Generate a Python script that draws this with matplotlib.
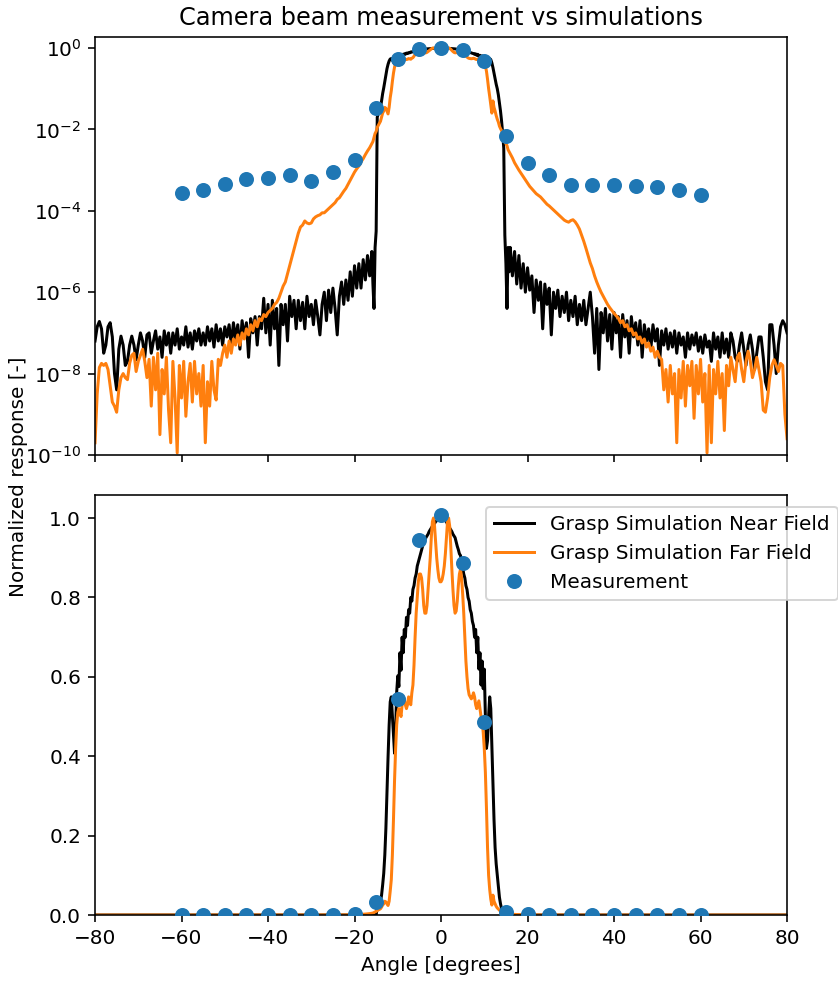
import numpy as np
import matplotlib
matplotlib.use("Agg")
import matplotlib.pyplot as plt
from matplotlib.ticker import NullLocator

# ---------------------------------------------------------------------------
# Beam cuts, in dB relative to the peak.
# Outer wings are sampled every 0.5 deg, the main beam every 0.25 deg.
# ---------------------------------------------------------------------------

# GRASP near-field simulation
nf_left_db = [
    -72, -68.5, -67.2, -69, -75, -73, -68.5, -67.5, -71, -80, -84, -74, -70.8,
    -73, -78, -77, -73, -70.8, -73, -76.6, -73, -70, -72, -76, -70.5,
    -70, -75, -72, -69.5, -74, -71, -76, -69.5, -73, -70, -75, -70, -73, -69,
    -74, -71, -73, -68.5, -73.5, -70, -74, -69.5, -72, -69, -73, -70, -73,
    -68.5, -72, -69, -73.5, -68, -72, -69, -73, -68.5, -71, -68, -73, -67.5,
    -71.5, -68, -74, -67, -71, -67.5, -76, -66.5, -70, -66, -73, -66, -69,
    -61.5, -70, -63, -73, -62, -69, -64, -78, -63, -68, -63, -72, -61, -66,
    -62, -69, -62, -67, -62.5, -69, -61, -66, -63, -68, -62, -66, -70.5, -63,
    -60, -67, -59.5, -65, -59, -64, -70.5, -61, -57.5, -63, -57, -62, -55, -61,
    -53.5, -59, -53, -59, -52, -57, -51, -56, -50,
]
nf_core_db = [
    -58, -64, -49, -45, -17.0, -16.2, -15.5, -14.6, -13.0, -11.2, -9.8, -8.2,
    -6.6, -5.1, -4.0, -3.2, -2.7, -2.6, -3.0, -3.4, -3.9, -3.3, -2.5, -2.2,
    -2.4, -1.8, -2.1, -1.55, -1.8, -1.43, -1.55, -1.25, -1.37, -1.14, -1.19,
    -0.97, -1.02, -0.86, -0.81, -0.71, -0.66, -0.56, -0.51, -0.46, -0.41,
    -0.36, -0.32, -0.27, -0.25, -0.22, -0.2, -0.18, -0.15, -0.13, -0.11,
    -0.09, -0.07, -0.06, -0.04, -0.03, -0.02, -0.01, 0.0,
    0.0,
    0.0, -0.01, -0.02, -0.03, -0.04, -0.07, -0.09, -0.11, -0.13, -0.15, -0.18,
    -0.2, -0.22, -0.27, -0.32, -0.36, -0.41, -0.43, -0.51, -0.58, -0.66,
    -0.71, -0.81, -0.86, -0.97, -1.02, -1.14, -1.19, -1.31, -1.37, -1.55,
    -1.43, -1.8, -1.55, -2.08, -1.8, -2.37, -1.94, -2.44, -2.08, -3.0, -3.77,
    -3.57, -3.0, -2.6, -2.84, -3.67, -4.81, -6.2, -7.7, -8.9, -10.0, -11.5,
    -13.5, -15.5, -18.0, -21.0, -24.6, -46, -53, -64, -49, -55,
]
nf_right_db = [
    -49, -56, -50, -58, -51, -59, -53, -60, -54, -59.5, -56, -65, -57, -62,
    -57.5, -69, -58, -63, -59, -70.5, -60, -64, -59.5, -66, -61, -65, -60, -67,
    -62, -66, -61, -68, -63, -67, -62, -68, -64, -60, -66, -75, -64, -79, -65,
    -70, -64, -72, -65.5, -74, -65, -70, -66, -76, -65.5, -71, -67, -75, -66,
    -71, -67.5, -73, -67, -76, -68, -72, -69, -74, -68, -72, -69, -78, -69.5,
    -73, -69, -74, -70, -73.5, -69.5, -75, -70, -73, -71, -76, -70, -74,
    -70.5, -73, -70, -74.5, -71, -75, -70.5, -73.5, -72, -77, -70, -74, -71,
    -76, -70, -75, -71.5, -76, -70, -72, -76, -77, -73, -70, -74, -78, -73,
    -70.5, -74, -79, -75, -71, -71, -76, -82, -84, -68, -68, -73, -80, -73,
    -68.5, -67, -68, -70,
]

# GRASP far-field simulation
ff_left_db = [
    -97, -85, -78.5, -77.5, -78, -77.5, -79, -83, -87, -88, -89.5, -84, -81,
    -80, -81, -81.5, -77.5, -75.5, -75, -79.5, -77, -75.5, -74, -77, -81,
    -76.5, -88, -76, -84, -75, -95, -79, -85, -76, -89, -97, -77, -86, -99.5,
    -78, -86, -77, -90.5, -82, -77.5, -87, -77, -85, -80, -88, -78, -97, -82,
    -88, -77, -84, -86.5, -76.5, -78, -75, -73, -76, -72, -75, -71.5, -73,
    -70.5, -73, -70, -71.5, -69, -70.5, -68, -69.5, -67, -68.5, -66.5, -67,
    -65.5, -66, -65, -64.5, -64, -63, -62.5, -61.5, -60, -58.5, -57.5, -55.5,
    -53.5, -51.5, -49.5, -47.5, -45.5, -44, -43.5, -42.5, -43, -43.2, -43,
    -42, -41.5, -41.2, -41, -40.5, -40.5, -40, -39.5, -39, -38.5, -38, -37.2,
    -36.8, -36, -35.2, -34.5, -33.5, -32.5, -31.5, -30.5, -29.7, -29, -28,
    -27.2, -26.2, -25.3, -24.5, -23.5,
]
ff_core_db = [
    -23.0, -22.0, -21.0, -20.5, -19.5, -19.0, -18.5, -18.0, -17.0, -16.0,
    -15.5, -14.6, -14.8, -15.5, -16.2, -14.6, -12.2, -10.5, -8.2, -6.2, -4.7,
    -3.77, -3.19, -2.92, -2.84, -2.92, -3.01, -2.76, -2.6, -2.64, -2.76,
    -2.84, -2.76, -2.6, -2.68, -2.76, -2.52, -2.37, -2.01, -1.55, -1.19,
    -0.97, -0.76, -0.66, -0.66, -0.71, -0.86, -1.08, -1.19, -1.19, -1.08,
    -0.86, -0.66, -0.46, -0.22, -0.04, 0.0, -0.09, -0.27, -0.46, -0.6, -0.71,
    -0.76,
    -0.76,
    -0.73, -0.66, -0.56, -0.41, -0.22, -0.04, 0.0, -0.09, -0.32, -0.6, -0.86,
    -1.08, -1.19, -1.16, -1.02, -0.81, -0.66, -0.6, -0.71, -0.92, -1.19,
    -1.55, -1.94, -2.22, -2.44, -2.56, -2.6, -2.64, -2.6, -2.52, -2.6, -2.76,
    -2.84, -2.76, -2.68, -2.84, -3.01, -3.1, -3.37, -3.77, -4.44, -5.69,
    -7.7, -10.0, -11.9, -14.0, -16.0, -13.0, -14.6, -15.5, -16.6, -17.5,
    -18.2, -19.2, -19.8, -20.3, -21.0, -21.5, -22.6, -23.5, -24.0, -25.0,
    -25.5,
]
ff_right_db = [
    -26, -27, -28.2, -29.1, -30, -30.8, -31.6, -32.4, -33.2, -34, -34.6,
    -35.2, -35.8, -36.2, -36.6, -37.2, -37.8, -38.4, -38.8, -39.3, -39.8,
    -40.3, -40.8, -41.3, -41.8, -42.3, -42.6, -42.8, -42.4, -42.2, -42.7,
    -43.5, -44.5, -46, -47.5, -49.2, -51, -52.8, -54.2, -56, -57.5, -58.8,
    -60, -61, -62, -63, -63.8, -64.5, -65.2, -65.8, -66.4, -67.5, -67, -68.5,
    -68, -69.5, -69, -70.5, -70, -71.5, -71, -72.5, -71.5, -73.5, -72.5,
    -74.5, -73.5, -76, -74.5, -76, -76.5, -84, -79, -87, -78, -85, -80, -97,
    -79, -86, -77, -88, -78, -83, -77, -91, -78, -85, -76.5, -87, -80, -99.5,
    -78, -97, -79, -85, -77, -86, -80, -94, -78, -83, -76, -79, -82, -76,
    -75, -79, -82, -77, -74.5, -77, -81, -79, -76, -79, -82, -89, -89.5, -86,
    -81, -78, -76.6, -78, -79.5, -77.5, -78, -90, -96,
]

# Camera measurement, every 5 deg, normalised to the peak
meas_angle = [-60, -55, -50, -45, -40, -35, -30, -25, -20, -15, -10, -5, 0,
              5, 10, 15, 20, 25, 30, 35, 40, 45, 50, 55, 60]
meas_value = [2.8e-4, 3.3e-4, 4.6e-4, 5.9e-4, 6.3e-4, 7.4e-4, 5.5e-4, 9.1e-4,
              1.74e-3, 0.033, 0.545, 0.945, 1.008, 0.888, 0.485, 0.0068,
              1.48e-3, 7.4e-4, 4.4e-4, 4.4e-4, 4.2e-4, 4.0e-4, 3.8e-4,
              3.2e-4, 2.4e-4]

x_ticks = [-80, -60, -40, -20, 0, 20, 40, 60, 80]
log_ticks = [1e0, 1e-2, 1e-4, 1e-6, 1e-8, 1e-10]


def sample_grid(left, core, right):
    """Angle grid: coarse wings, fine main beam."""
    return np.concatenate([
        np.linspace(-80, -16, len(left)),
        np.linspace(-15.75, 15.75, len(core)),
        np.linspace(16, 80, len(right)),
    ])


nf_angle = sample_grid(nf_left_db, nf_core_db, nf_right_db)
ff_angle = sample_grid(ff_left_db, ff_core_db, ff_right_db)
near_field = 10 ** (np.array(nf_left_db + nf_core_db + nf_right_db) / 10)
far_field = 10 ** (np.array(ff_left_db + ff_core_db + ff_right_db) / 10)

DPI = 144
fig = plt.figure(figsize=(838 / DPI, 982 / DPI), dpi=DPI)
ax_log = fig.add_axes([0.1134, 0.5367, 0.8258, 0.4256])
ax_lin = fig.add_axes([0.1134, 0.0682, 0.8258, 0.4277], sharex=ax_log)

for ax in (ax_log, ax_lin):
    ax.plot(nf_angle, near_field, color="black", lw=1.5,
            label="Grasp Simulation Near Field")
    ax.plot(ff_angle, far_field, color="#ff7f0e", lw=1.5,
            label="Grasp Simulation Far Field")
    ax.plot(meas_angle, meas_value, "o", color="#1f77b4", ms=6.5,
            label="Measurement", zorder=3)

ax_log.set_yscale("log")
ax_log.set_ylim(1e-10, 1.86)
ax_log.set_yticks(log_ticks)
ax_log.yaxis.set_minor_locator(NullLocator())
ax_log.set_title("Camera beam measurement vs simulations", fontsize=12)
ax_log.tick_params(labelbottom=False)

ax_lin.set_xlim(-80, 80)
ax_lin.set_xticks(x_ticks)
ax_lin.set_ylim(0, 1.058)
ax_lin.set_xlabel("Angle [degrees]")
ax_lin.legend(loc="upper left", bbox_to_anchor=(0.565, 0.971),
              borderaxespad=0)

fig.text(0.0215, 0.515, "Normalized response [-]", rotation=90,
         ha="center", va="center")

fig.savefig("out.png", dpi=DPI)
